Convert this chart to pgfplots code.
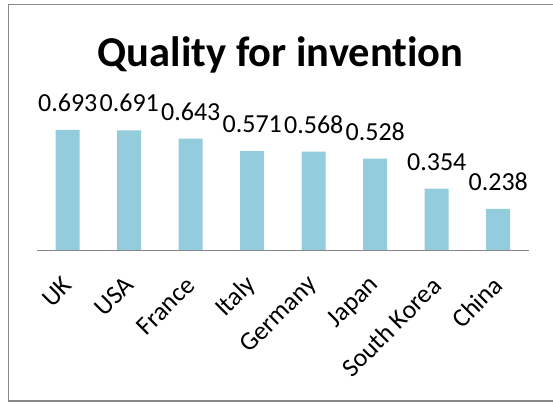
\documentclass[border=0pt]{standalone}
\usepackage{pgfplots}
\pgfplotsset{compat=1.18}
\usepackage{fontspec}
\setmainfont{Carlito}[Ligatures={NoCommon}]
\definecolor{barc}{HTML}{93CDDD}
\definecolor{framec}{HTML}{898989}
\definecolor{axisc}{HTML}{868686}
\pgfplotstableread{
x y lab
0 0.693 0.693
1 0.691 0.691
2 0.643 0.643
3 0.571 0.571
4 0.568 0.568
5 0.528 0.528
6 0.354 0.354
7 0.238 0.238
}\datatable
\begin{document}
\begin{tikzpicture}
\useasboundingbox (0bp,0bp) rectangle (553bp,403bp);
\draw[color=framec, line width=1.6bp] (560bp,2bp) -- (8.5bp,2bp) -- (8.5bp,398.5bp) -- (560bp,398.5bp);
\node[anchor=base, inner sep=0pt, font=\fontsize{42.5bp}{48bp}\selectfont\bfseries] at (280.5bp,336.3bp) {Quality for invent\kern0pt ion};
\begin{axis}[
  at={(37bp,153bp)}, anchor=south west,
  scale only axis,
  width=492bp, height=138.6bp,
  xmin=-0.5, xmax=7.5, ymin=0, ymax=0.8,
  axis x line*=bottom, axis y line=none,
  x axis line style={color=axisc, line width=0.9bp, -},
  xtick={0,...,7},
  xticklabels={UK,USA,France,Italy,Germany,Japan,South Korea,China},
  major tick length=0pt,
  xticklabel style={yshift=-31bp, rotate=45, anchor=east, inner sep=0pt, font=\fontsize{26bp}{30bp}\selectfont},
  ytick=\empty,
  clip=false,
  ybar, bar width=24bp,
  point meta=explicit symbolic,
  nodes near coords,
  nodes near coords style={anchor=south, inner sep=0pt, yshift=18bp, font=\fontsize{26bp}{30bp}\selectfont, text=black},
]
\addplot[fill=barc, draw=none] table[x=x, y=y, meta=lab] {\datatable};
\end{axis}
\end{tikzpicture}
\end{document}
